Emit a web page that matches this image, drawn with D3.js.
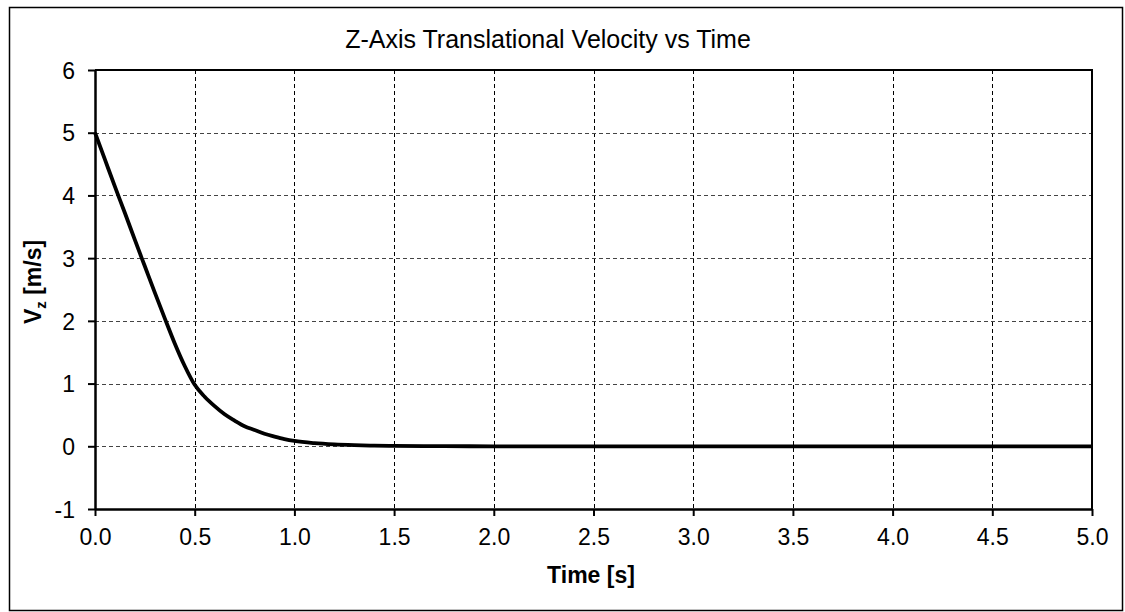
<!DOCTYPE html>
<html>
<head>
<meta charset="utf-8">
<script src="https://cdn.jsdelivr.net/npm/d3@7"></script>
<style>
	body { margin: 0; background: #fff; }
	svg { display: block; font-family: "Liberation Sans", Arial, sans-serif; }
</style>
</head>
<body>
<div id="chart"></div>
<script>
// time samples [s] and z-velocity [m/s]
var times = [0, 0.05, 0.1, 0.15, 0.2, 0.25, 0.3, 0.35, 0.4, 0.45, 0.5, 0.55, 0.6, 0.65,
	0.7, 0.75, 0.8, 0.85, 0.9, 0.95, 1.0, 1.1, 1.2, 1.3, 1.4, 1.5, 1.75, 2.0, 3.0, 4.0, 5.0];
var velocity = [5.0, 4.57, 4.14, 3.72, 3.29, 2.87, 2.45, 2.04, 1.64, 1.28, 0.98, 0.79, 0.64, 0.51,
	0.41, 0.32, 0.26, 0.2, 0.155, 0.115, 0.085, 0.05, 0.03, 0.018, 0.01, 0.005, 0.001, 0, 0, 0, 0];
var xTicks = [0, 0.5, 1, 1.5, 2, 2.5, 3, 3.5, 4, 4.5, 5];
var yTicks = [-1, 0, 1, 2, 3, 4, 5, 6];

var width = 1125, height = 612;
var plotL = 95, plotR = 1092, plotT = 70, plotB = 509;

var svg = d3.select('#chart').append('svg')
	.attr('width', width).attr('height', height);

// outer chart frame
svg.append('rect')
	.attr('x', 9.5).attr('y', 7.5)
	.attr('width', 1113).attr('height', 603)
	.style('fill', '#fff')
	.style('stroke', '#000')
	.style('stroke-width', 1.5);

var x = d3.scaleLinear().domain([0, 5]).range([plotL, plotR]);
var y = d3.scaleLinear().domain([-1, 6]).range([plotB, plotT]);

// grid
svg.append('g').selectAll('line')
	.data(xTicks.filter(function(d) { return d > 0 && d < 5; }))
	.join('line')
	.attr('x1', function(d) { return Math.round(x(d)) + 0.5; })
	.attr('x2', function(d) { return Math.round(x(d)) + 0.5; })
	.attr('y1', plotT).attr('y2', plotB)
	.style('stroke', '#000')
	.style('stroke-dasharray', '4,3');

svg.append('g').selectAll('line')
	.data(yTicks.filter(function(d) { return d > -1 && d < 6; }))
	.join('line')
	.attr('x1', plotL).attr('x2', plotR)
	.attr('y1', function(d) { return Math.round(y(d)) + 0.5; })
	.attr('y2', function(d) { return Math.round(y(d)) + 0.5; })
	.style('stroke', '#444')
	.style('stroke-dasharray', '4,3');

// plot box top and right
svg.append('path')
	.attr('d', 'M' + plotL + ',' + plotT + 'H' + plotR + 'V' + plotB)
	.style('fill', 'none')
	.style('stroke', '#000')
	.style('stroke-width', 2);

var xAxis = svg.append('g')
	.attr('transform', 'translate(0,' + plotB + ')')
	.call(d3.axisBottom(x).tickValues(xTicks).tickFormat(d3.format('.1f'))
		.tickSizeInner(7).tickSizeOuter(0).tickPadding(13));

var yAxis = svg.append('g')
	.attr('transform', 'translate(' + plotL + ',0)')
	.call(d3.axisLeft(y).tickValues(yTicks).tickFormat(function(d) { return String(d); })
		.tickSizeInner(7).tickSizeOuter(0).tickPadding(13));

[xAxis, yAxis].forEach(function(ax) {
	ax.select('.domain').style('stroke', '#000').style('stroke-width', 2.5);
	ax.selectAll('.tick line').style('stroke', '#000').style('stroke-width', 2);
	ax.selectAll('.tick text')
		.style('font-family', '"Liberation Sans", Arial, sans-serif')
		.style('font-size', '23px')
		.style('fill', '#000');
});
yAxis.selectAll('.tick text').attr('dy', '0.36em');

// series
var line = d3.line()
	.x(function(d, i) { return x(times[i]); })
	.y(function(d) { return y(d); })
	.curve(d3.curveMonotoneX);

svg.append('path')
	.datum(velocity)
	.attr('d', line)
	.style('fill', 'none')
	.style('stroke', '#000')
	.style('stroke-width', 3.8)
	.style('stroke-linejoin', 'round');

// title & axis labels
svg.append('text')
	.attr('x', 548).attr('y', 48)
	.attr('text-anchor', 'middle')
	.style('font-size', '25px')
	.text('Z-Axis Translational Velocity vs Time');

svg.append('text')
	.attr('x', 591).attr('y', 583)
	.attr('text-anchor', 'middle')
	.style('font-size', '23px')
	.style('font-weight', 'bold')
	.text('Time [s]');

var yl = svg.append('text')
	.attr('transform', 'translate(41,282) rotate(-90)')
	.attr('text-anchor', 'middle')
	.style('font-size', '23px')
	.style('font-weight', 'bold');
yl.append('tspan').text('V');
yl.append('tspan').attr('dy', 5).style('font-size', '15px').text('z');
yl.append('tspan').attr('dy', -5).text(' [m/s]');
</script>
</body>
</html>
